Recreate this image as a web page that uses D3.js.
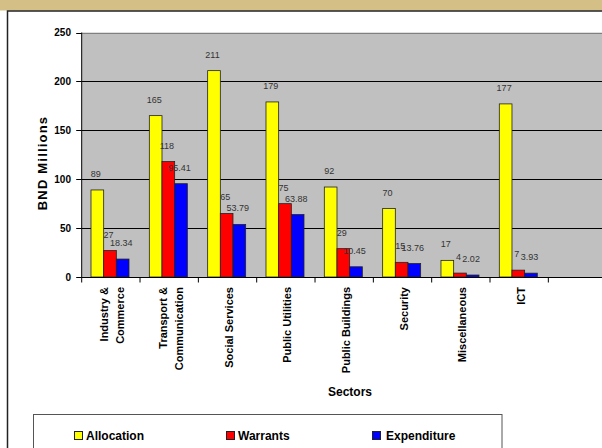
<!DOCTYPE html>
<html lang="en">
<head>
<meta charset="UTF-8">
<title>Sector Allocation, Warrants and Expenditure</title>
<script src="https://d3js.org/d3.v7.min.js"></script>
<style>
  body { margin: 0; background: #fff; font-family: 'Liberation Sans', Arial, sans-serif; }
  svg { display: block; }
  .val { font-size: 9px; fill: #333; }
  .tick-lbl { font-size: 10px; font-weight: bold; fill: #000; }
  .cat { font-size: 11px; font-weight: bold; fill: #000; }
</style>
</head>
<body>
<svg width="602" height="448"></svg>
<script>
var width = 602, height = 448;

// data
var sectors = [["Industry &", "Commerce"], ["Transport &", "Communication"], ["Social Services"],
               ["Public Utilities"], ["Public Buildings"], ["Security"], ["Miscellaneous"], ["ICT"], []];
var allocation  = [89, 165, 211, 179, 92, 70, 17, 177];
var warrants    = [27, 118, 65, 75, 29, 15, 4, 7];
var expenditure = [18.34, 95.41, 53.79, 63.88, 10.45, 13.76, 2.02, 3.93];
var seriesNames = ["Allocation", "Warrants", "Expenditure"];
var seriesColors = ["#ffff00", "#ff0000", "#0000ff"];
var yTicks = [0, 50, 100, 150, 200, 250];

var svg = d3.select("svg");

// frame: tan band and dark border
svg.append("rect").attr("x", 0).attr("y", 0).attr("width", width).attr("height", 10.5).attr("fill", "#d4bf87");
svg.append("path").attr("d", "M7.5,448V11H602").attr("fill", "none").attr("stroke", "#222").attr("stroke-width", 1.5);

var plotL = 81.7, plotT = 32.5, plotB = 277;
var x0 = d3.scaleBand().domain(d3.range(sectors.length)).range([plotL, plotL + 9 * 58.33]).padding(0);
var x1 = d3.scaleBand().domain(d3.range(3)).range([9.3, 47.3]).padding(0);
var y = d3.scaleLinear().domain([0, 250]).range([plotB, plotT]);

// plot area
svg.append("rect").attr("x", plotL).attr("y", plotT).attr("width", x0.range()[1] - plotL).attr("height", plotB - plotT)
  .attr("fill", "#c0c0c0");

svg.append("g").selectAll("line").data(yTicks.filter(function(d) { return d > 0; })).enter().append("line")
  .attr("x1", plotL).attr("x2", width)
  .attr("y1", function(d) { return Math.round(y(d)) + 0.5; })
  .attr("y2", function(d) { return Math.round(y(d)) + 0.5; })
  .attr("stroke", function(d) { return d === 250 ? "#808080" : "#000"; })
  .attr("stroke-width", 1);

// bars
var seriesData = [allocation, warrants, expenditure];
var groups = svg.append("g").selectAll("g").data(allocation).enter().append("g")
  .attr("transform", function(d, i) { return "translate(" + x0(i) + ",0)"; });

groups.selectAll("rect").data(function(d, i) { return seriesData.map(function(s, k) { return { k: k, v: s[i] }; }); })
  .enter().append("rect")
  .attr("x", function(d) { return x1(d.k); })
  .attr("y", function(d) { return y(d.v); })
  .attr("width", x1.bandwidth())
  .attr("height", function(d) { return plotB - y(d.v); })
  .attr("fill", function(d) { return seriesColors[d.k]; })
  .attr("stroke", "#222").attr("stroke-width", 0.8);

groups.selectAll("text").data(function(d, i) { return seriesData.map(function(s, k) { return { k: k, v: s[i] }; }); })
  .enter().append("text")
  .attr("class", "val")
  .attr("x", function(d) { return x1(d.k) + x1.bandwidth() / 2 - 1.5; })
  .attr("y", function(d) { return y(d.v) - 13; })
  .attr("text-anchor", "middle")
  .text(function(d) { return d.v; });

// y axis
var yAxis = svg.append("g");
yAxis.append("line").attr("x1", plotL).attr("x2", plotL).attr("y1", plotT).attr("y2", plotB).attr("stroke", "#000");
yAxis.selectAll("line.t").data(yTicks).enter().append("line").attr("class", "t")
  .attr("x1", plotL - 5.5).attr("x2", plotL)
  .attr("y1", function(d) { return Math.round(y(d)) + 0.5; })
  .attr("y2", function(d) { return Math.round(y(d)) + 0.5; })
  .attr("stroke", "#000");
yAxis.selectAll("text").data(yTicks).enter().append("text").attr("class", "tick-lbl")
  .attr("x", 71).attr("y", function(d) { return y(d) + 3.5; })
  .attr("text-anchor", "end").text(function(d) { return d; });

svg.append("text")
  .attr("transform", "translate(47,163) rotate(-90)")
  .attr("text-anchor", "middle")
  .style("font-size", "13px").style("font-weight", "bold").style("letter-spacing", "1.2px")
  .text("BND Millions");

// x axis
var xAxis = svg.append("g");
xAxis.append("line").attr("x1", plotL).attr("x2", width).attr("y1", plotB + 0.5).attr("y2", plotB + 0.5)
  .attr("stroke", "#000").attr("stroke-width", 1.2);
xAxis.selectAll("line.t").data(d3.range(sectors.length + 1)).enter().append("line").attr("class", "t")
  .attr("x1", function(i) { return plotL + i * x0.bandwidth(); })
  .attr("x2", function(i) { return plotL + i * x0.bandwidth(); })
  .attr("y1", plotB).attr("y2", plotB + 5.5).attr("stroke", "#000");

var cats = xAxis.selectAll("text.cat").data(sectors).enter().append("text").attr("class", "cat")
  .attr("transform", function(d, i) { return "translate(" + (x0(i) + x0.bandwidth() / 2 + 1.5) + ",287) rotate(-90)"; })
  .attr("text-anchor", "end");
cats.selectAll("tspan").data(function(d) { return d.map(function(t, j) { return { t: t, off: (j - (d.length - 1) / 2) * 16 }; }); })
  .enter().append("tspan")
  .attr("x", 0).attr("y", function(d) { return d.off + 4; })
  .text(function(d) { return d.t; });

svg.append("text").attr("x", 350).attr("y", 396).attr("text-anchor", "middle")
  .style("font-size", "12px").style("font-weight", "bold").text("Sectors");

// legend
var legX = [74, 226, 372];
svg.append("rect").attr("x", 33.5).attr("y", 414.5).attr("width", 468.5).attr("height", 50)
  .attr("fill", "#fff").attr("stroke", "#555");
var leg = svg.append("g").selectAll("g").data(seriesNames).enter().append("g")
  .attr("transform", function(d, i) { return "translate(" + legX[i] + ",431)"; });
leg.append("rect").attr("x", 0.5).attr("y", 0.5).attr("width", 8).attr("height", 8)
  .attr("fill", function(d, i) { return seriesColors[i]; }).attr("stroke", "#222");
leg.append("text").attr("x", function(d, i) { return i === 2 ? 14 : 12; }).attr("y", 8.8)
  .style("font-size", "12px").style("font-weight", "bold").text(function(d) { return d; });
</script>
</body>
</html>
